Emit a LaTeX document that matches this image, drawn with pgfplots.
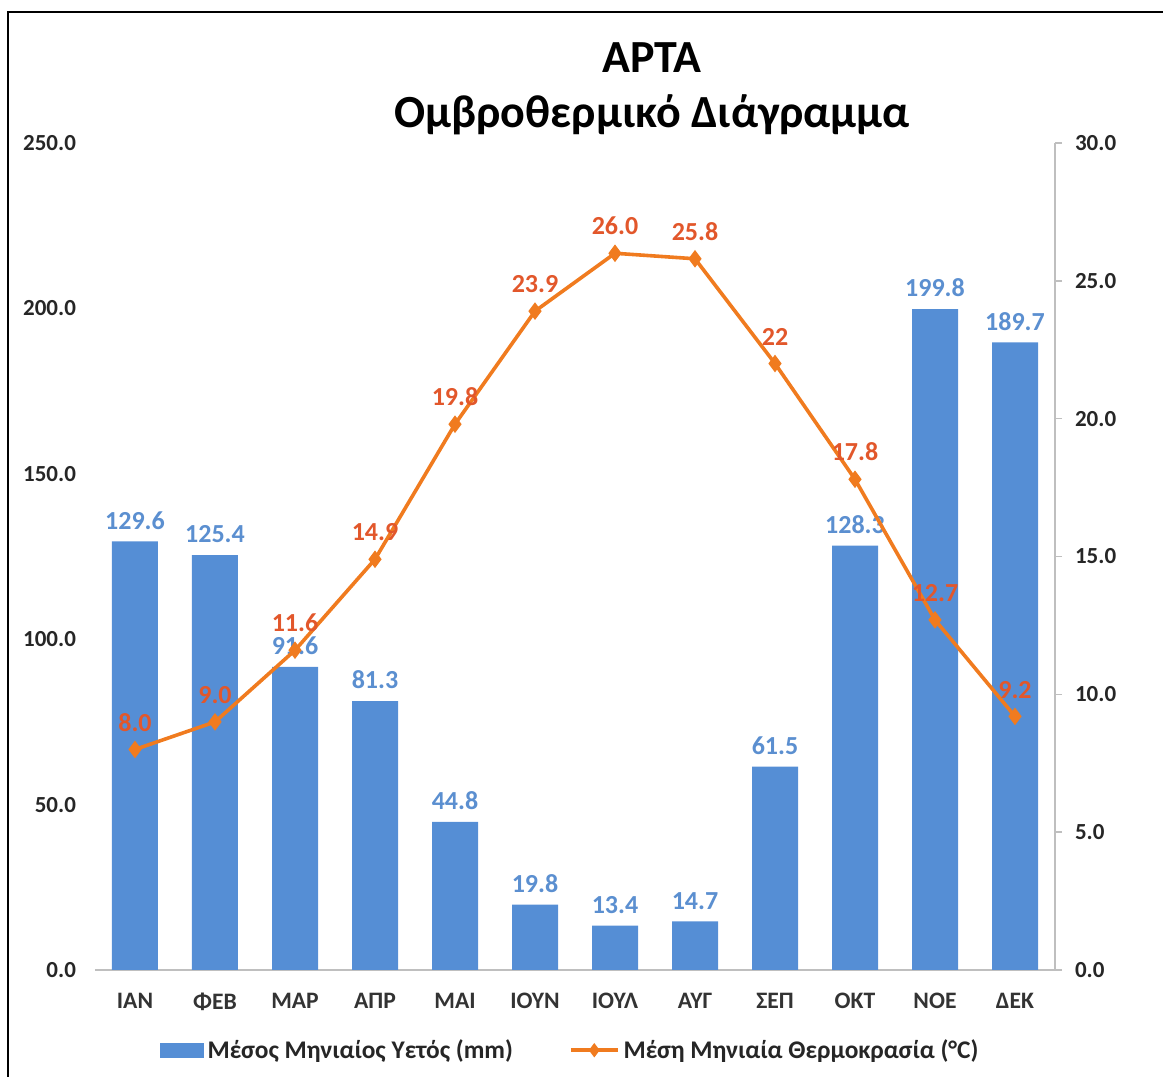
\documentclass[border=0pt]{standalone}
\usepackage{pgfplots}
\pgfplotsset{compat=1.18}
\usepackage{pgfplotstable}
\usepackage{fontspec}
\setmainfont{Carlito}

\definecolor{barblue}{HTML}{558ED5}
\definecolor{barlab}{HTML}{5B8FD0}
\definecolor{lineor}{HTML}{F07B1F}
\definecolor{linelab}{HTML}{E2572B}
\definecolor{axgray}{HTML}{BFBFBF}

\pgfplotsset{
  templeg/.style={legend image code/.code={%
    \draw[mark repeat=2, mark phase=2, ##1, mark size=3.2pt]
      plot coordinates {(0pt,0pt) (11.75pt,0pt) (23.5pt,0pt)};}},
  rainleg/.style={legend image code/.code={%
    \fill[barblue] (0pt,-3.5pt) rectangle (21.5pt,3.5pt);}},
}

% month index, rain (mm), temperature (C), labels
\pgfplotstableread{
x rain rlab temp tlab
0 129.6 129.6 8.0 8.0
1 125.4 125.4 9.0 9.0
2 91.6 91.6 11.6 11.6
3 81.3 81.3 14.9 14.9
4 44.8 44.8 19.8 19.8
5 19.8 19.8 23.9 23.9
6 13.4 13.4 26.0 26.0
7 14.7 14.7 25.8 25.8
8 61.5 61.5 22.0 22
9 128.3 128.3 17.8 17.8
10 199.8 199.8 12.7 12.7
11 189.7 189.7 9.2 9.2
}\climate

\begin{document}
\begin{tikzpicture}
\pgfplotsset{
  every axis/.append style={
    scale only axis, width=480pt, height=413.5pt,
    at={(0,0)}, anchor=south west,
    xmin=-0.5, xmax=11.5,
    /pgf/number format/assume math mode=true,
    /pgf/number format/.cd, fixed, fixed zerofill, precision=1,
  },
}
% rain bars, left axis
\begin{axis}[
  ymin=0, ymax=250,
  axis x line*=bottom, axis y line*=left,
  x axis line style={axgray, line width=0.8pt},
  y axis line style={draw=none},
  xtick={0,...,11},
  xticklabels={ΙΑΝ,ΦΕΒ,ΜΑΡ,ΑΠΡ,ΜΑΙ,ΙΟΥΝ,ΙΟΥΛ,ΑΥΓ,ΣΕΠ,ΟΚΤ,ΝΟΕ,ΔΕΚ},
  ytick={0,50,...,250},
  major tick length=0pt,
  xticklabel style={font=\bfseries\fontsize{11.8}{12}\selectfont, color=black!80, yshift=-8pt},
  yticklabel style={font=\bfseries\fontsize{11.5}{12}\selectfont, color=black!85, xshift=-6pt},
]
\addplot[ybar, bar width=23pt, fill=barblue, draw=none,
  point meta=explicit symbolic,
  nodes near coords={\pgfplotspointmeta},
  every node near coord/.append style={font=\bfseries\fontsize{13}{14}\selectfont, color=barlab, yshift=2.5pt}]
  table[x=x, y=rain, meta=rlab] {\climate};
\end{axis}
% temperature line, right axis
\begin{axis}[
  ymin=0, ymax=30,
  axis x line=none, axis y line*=right,
  y axis line style={axgray, line width=0.8pt},
  ytick={0,5,...,30},
  ytick style={axgray, line width=0.8pt},
  tick align=outside, major tick length=3.5pt,
  yticklabel style={font=\bfseries\fontsize{11.5}{12}\selectfont, color=black!85, xshift=3pt},
  legend style={at={(0.496,-0.097)}, anchor=center, draw=none, fill=none,
    legend columns=2, font=\bfseries\fontsize{12.7}{14}\selectfont, text=black!85,
    /tikz/every even column/.append style={column sep=26pt},
    cells={anchor=west}, inner sep=0pt},
]
\addlegendimage{rainleg}
\addlegendentry{Μέσος Μηνιαίος Υετός (mm)}
\addplot[lineor, line width=1.8pt, mark=diamond*, mark size=4pt,
  mark options={fill=lineor, draw=lineor, line width=0.5pt},
  templeg,
  point meta=explicit symbolic,
  nodes near coords={\pgfplotspointmeta},
  every node near coord/.append style={font=\bfseries\fontsize{13}{14}\selectfont, color=linelab, yshift=5.5pt}]
  table[x=x, y=temp, meta=tlab] {\climate};
\addlegendentry{Μέση Μηνιαία Θερμοκρασία (°C)}
\end{axis}
\node[font=\bfseries\fontsize{23}{27.5}\selectfont, align=center] at (278.5pt,440.75pt) {ΑΡΤΑ\\Ομβροθερμικό Διάγραμμα};
\draw[line width=1pt] (-43.5pt,-53.5pt) -- (-43.5pt,479pt) -- (534pt,479pt);
\pgfresetboundingbox
\useasboundingbox (-47.5pt,-53.5pt) rectangle (534pt,485pt);
\end{tikzpicture}
\end{document}
